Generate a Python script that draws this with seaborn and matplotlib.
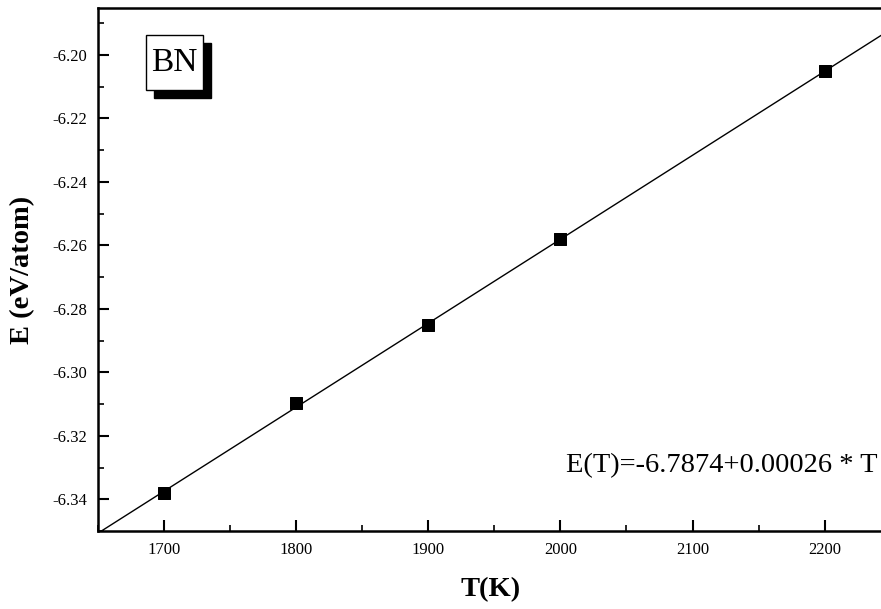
import numpy as np
import pandas as pd
import matplotlib
matplotlib.use("Agg")
import matplotlib.pyplot as plt
import seaborn as sns
from matplotlib.ticker import MultipleLocator, FormatStrFormatter
from matplotlib.patches import Rectangle

# Data
temps = [1700, 1800, 1900, 2000, 2200]
energies = [-6.338, -6.3098, -6.2852, -6.2581, -6.2051]
x_ticks = [1700, 1800, 1900, 2000, 2100, 2200]
y_ticks = [-6.34, -6.32, -6.30, -6.28, -6.26, -6.24, -6.22, -6.20]
fit_label = "E(T)=-6.7874+0.00026 * T"
title_box = "BN"

sns.set_style("ticks")
plt.rcParams['font.family'] = ['Liberation Serif', 'DejaVu Serif']
plt.rcParams['text.color'] = 'black'
plt.rcParams['axes.labelcolor'] = 'black'
plt.rcParams['xtick.color'] = 'black'
plt.rcParams['ytick.color'] = 'black'

fig = plt.figure(figsize=(8.81, 6.09), dpi=100)
ax = fig.add_axes([98/881, 78/609, 1 - 98/881 + 0.002, (531-8)/609])

xlim = (1650, 2244)
ylim = (-6.35, -6.1852)

# linear fit line from the data
slope, intercept = np.polyfit(temps, energies, 1)
fx = np.array(xlim, dtype=float)
fit_df = pd.DataFrame({"T": fx, "E": intercept + slope * fx})
sns.lineplot(data=fit_df, x="T", y="E", ax=ax, color="black", linewidth=1.0)

df = pd.DataFrame({"T": temps, "E": energies})
sns.scatterplot(data=df, x="T", y="E", ax=ax, marker="s", s=80,
                color="black", edgecolor="black", zorder=5)

ax.set_xlim(*xlim)
ax.set_ylim(*ylim)
ax.set_xticks(x_ticks)
ax.set_yticks(y_ticks)
ax.xaxis.set_minor_locator(MultipleLocator(50))
ax.yaxis.set_minor_locator(MultipleLocator(0.01))
ax.yaxis.set_major_formatter(FormatStrFormatter('%.2f'))
ax.tick_params(axis='both', which='major', direction='in', length=8, width=1.5,
               labelsize=12, colors='black', pad=8)
ax.tick_params(axis='both', which='minor', direction='in', length=4, width=1.2)

for side in ['left', 'bottom', 'top']:
    ax.spines[side].set_linewidth(1.8)
    ax.spines[side].set_color('black')
ax.spines['right'].set_visible(False)

ax.set_xlabel("T(K)", fontsize=20.5, fontweight='bold', labelpad=14, color='black')
ax.set_ylabel("E (eV/atom)", fontsize=20.5, fontweight='bold', labelpad=12, color='black')

ax.text(0.993, 0.125, fit_label, transform=ax.transAxes, ha='right', va='center',
        fontsize=20.5, color='black')

# BN label box with drop shadow (axes-fraction geometry)
bx0, bx1 = 0.0613, 0.1341
by0, by1 = 0.8432, 0.9484
sdx, sdy = 0.0102, 0.0153
ax.add_patch(Rectangle((bx0 + sdx, by0 - sdy), bx1 - bx0, by1 - by0,
                       transform=ax.transAxes, facecolor='black', edgecolor='black',
                       zorder=6))
ax.add_patch(Rectangle((bx0, by0), bx1 - bx0, by1 - by0,
                       transform=ax.transAxes, facecolor='white', edgecolor='black',
                       linewidth=1, zorder=7))
ax.text((bx0 + bx1) / 2, (by0 + by1) / 2, title_box, transform=ax.transAxes,
        ha='center', va='center', fontsize=24, color='black', zorder=8)

fig.savefig("out.png", dpi=100)
